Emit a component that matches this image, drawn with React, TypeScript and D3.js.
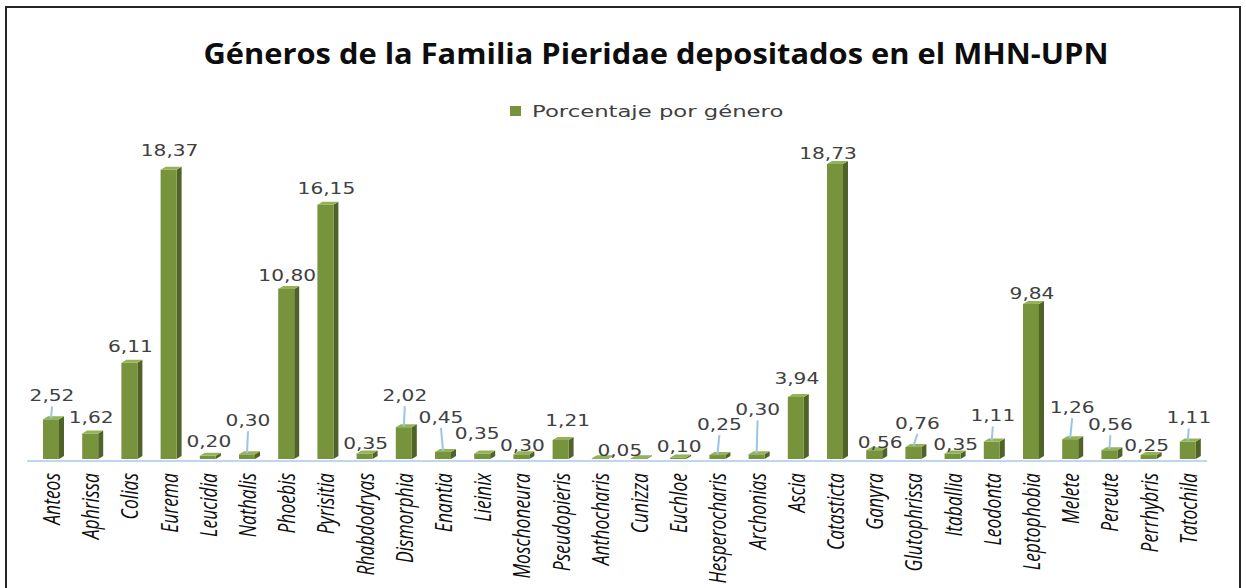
import React from "react";
import * as d3 from "d3";

const genera = [
  "Anteos", "Aphrissa", "Colias", "Eurema", "Leucidia", "Nathalis", "Phoebis", "Pyrisitia",
  "Rhabdodryas", "Dismorphia", "Enantia", "Lieinix", "Moschoneura", "Pseudopieris",
  "Anthocharis", "Cunizza", "Euchloe", "Hesperocharis", "Archonias", "Ascia", "Catasticta",
  "Ganyra", "Glutophrissa", "Itaballia", "Leodonta", "Leptophobia", "Melete", "Pereute",
  "Perrhybris", "Tatochila",
];

const percentages = [
  2.52, 1.62, 6.11, 18.37, 0.2, 0.3, 10.8, 16.15, 0.35, 2.02, 0.45, 0.35, 0.3, 1.21,
  0.05, 0.05, 0.1, 0.25, 0.3, 3.94, 18.73, 0.56, 0.76, 0.35, 1.11, 9.84, 1.26, 0.56,
  0.25, 1.11,
];

const title = "Géneros de la Familia Pieridae depositados en el MHN-UPN";
const seriesName = "Porcentaje por género";

// label placement tweaks (layout only)
const labelLayout: Record<string, { dx?: number; dy?: number; leader?: boolean; hide?: boolean }> = {
  Anteos: { dy: -8, leader: true },
  Eurema: { dy: -3 },
  Leucidia: { dy: 2 },
  Nathalis: { dy: -18, leader: true },
  Phoebis: { dy: 3 },
  Rhabdodryas: { dy: 6 },
  Dismorphia: { dy: -16, leader: true },
  Enantia: { dx: -3, dy: -19, leader: true },
  Lieinix: { dx: -6, dy: -4 },
  Moschoneura: { dy: 7 },
  Pseudopieris: { dx: 6, dy: -4 },
  Anthocharis: { dx: 19, dy: 8 },
  Cunizza: { hide: true },
  Euchloe: { dy: 5 },
  Hesperocharis: { dx: 1, dy: -15, leader: true },
  Archonias: { dy: -29, leader: true },
  Ascia: { dy: -3 },
  Catasticta: { dx: -8, dy: 5 },
  Ganyra: { dx: 5, dy: 8 },
  Glutophrissa: { dx: 3, dy: -8, leader: true },
  Itaballia: { dx: 2, dy: 7 },
  Leodonta: { dy: -10, leader: true },
  Leptophobia: { dy: 5 },
  Melete: { dx: 1, dy: -16, leader: true },
  Pereute: { dy: -10, leader: true },
  Perrhybris: { dx: -3, dy: 6 },
  Tatochila: { dy: -8, leader: true },
};

const fmt = (v: number) => v.toFixed(2).replace(".", ",");

export default function App() {
  const W = 1246;
  const H = 588;
  const base = 459;
  const x = d3.scaleBand<string>().domain(genera).range([32.4, 1208.4]);
  const y = d3.scaleLinear().domain([0, 20]).range([base, base - 315]);
  const bw = x.bandwidth();
  const front = "#77933C";
  const side = "#4F6228";
  const top = "#93B356";
  const dX = 5;
  const dY = 3;

  return (
    <svg width={W} height={H} style={{ position: "absolute", left: 0, top: 0, background: "#fff" }}>
      <rect x={6} y={7} width={1234} height={600} fill="#fff" stroke="#262626" strokeWidth={2} />
      <text
        x={656}
        y={64}
        textAnchor="middle"
        fontFamily="'Open Sans', sans-serif"
        fontWeight={700}
        fontSize={28}
        textLength={905}
        lengthAdjust="spacingAndGlyphs"
        fill="#0D0D0D"
      >
        {title}
      </text>
      <rect x={510} y={106} width={11} height={10} fill={front} />
      <text
        transform="translate(532,111) scale(1.33,1)"
        dy="0.36em"
        fontFamily="'DejaVu Sans', sans-serif"
        fontSize={15.5}
        textLength={189}
        lengthAdjust="spacingAndGlyphs"
        fill="#404040"
      >
        {seriesName}
      </text>
      <line x1={27} x2={1207} y1={base + 2} y2={base + 2} stroke="#BDD7EE" strokeWidth={2} />
      {genera.map((g, i) => {
        const v = percentages[i];
        const c = (x(g) as number) + bw / 2;
        const yt = y(v);
        const l = c - 9;
        const r = c + 7;
        return (
          <g key={g}>
            <polygon
              points={`${r},${yt} ${r + dX},${yt - dY} ${r + dX},${base - dY} ${r},${base}`}
              fill={side}
            />
            <rect x={l} y={yt} width={r - l} height={base - yt} fill={front} />
            <polygon
              points={`${l},${yt} ${l + dX},${yt - dY} ${r + dX},${yt - dY} ${r},${yt}`}
              fill={top}
            />
          </g>
        );
      })}
      {genera.map((g, i) => {
        const v = percentages[i];
        const c = (x(g) as number) + bw / 2;
        const lay = labelLayout[g] || {};
        if (lay.hide) return null;
        const lx = c + (lay.dx || 0);
        const ly = y(v) - 16 + (lay.dy || 0);
        return (
          <g key={g + "-lbl"}>
            {lay.leader && (
              <line x1={lx} y1={ly + 11} x2={c - 1} y2={y(v) - 1} stroke="#9DC3E6" strokeWidth={2} />
            )}
            <text
              transform={`translate(${lx},${ly}) scale(1.3,1)`}
              dy="0.36em"
              textAnchor="middle"
              fontFamily="'DejaVu Sans', sans-serif"
              fontSize={15.5}
              fill="#404040"
            >
              {fmt(v)}
            </text>
          </g>
        );
      })}
      {genera.map((g) => {
        const c = (x(g) as number) + bw / 2;
        return (
          <text
            key={g + "-cat"}
            transform={`translate(${c + 8},473) scale(1.3,1) rotate(-90)`}
            textAnchor="end"
            fontFamily="'Open Sans', sans-serif"
            fontStyle="italic"
            fontSize={17.5}
            fill="#0D0D0D"
          >
            {g}
          </text>
        );
      })}
    </svg>
  );
}
